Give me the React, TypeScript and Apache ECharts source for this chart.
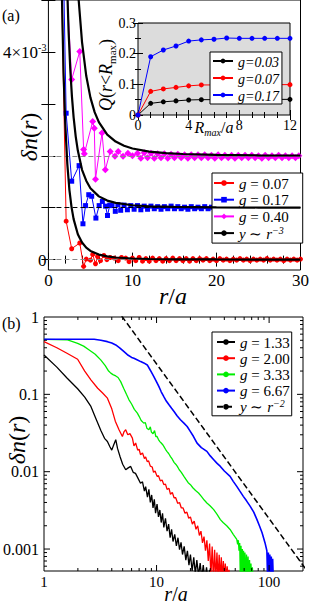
import React, { useEffect, useRef } from 'react';
import * as echarts from 'echarts';

const SERIF = 'Liberation Serif';

// ---------- Panel (a): δn(r) in units of 1e-3 (curves offset by 0, 1, 2) ----------
const g007: number[][] = [
  [1.41, 6.5], [2.11, 0.74], [2.77, 0.21], [3.73, 0.32], [4.19, -0.13], [4.5, 0.01], [5.0, -0.01],
  [5.27, 0.1], [5.6, -0.08], [5.85, 0.06], [6.2, -0.02], [6.6, 0.08], [6.96, 0.0], [7.35, 0.04],
  [7.85, 0.03], [8.3, -0.02], [8.7, 0.04], [9.2, 0.03], [9.6, -0.04], [10.0, 0.03], [10.4, -0.02],
  [10.8, 0.04], [11.2, -0.03], [11.6, 0.02], [12.0, -0.03], [12.4, 0.03], [12.8, -0.02], [13.2, 0.02],
  [13.6, -0.03], [14.0, 0.02], [14.4, -0.02], [14.8, 0.03], [15.2, -0.02], [15.6, 0.02], [16.0, -0.02],
  [16.4, 0.02], [16.8, -0.03], [17.2, 0.02], [17.6, -0.02], [18.0, 0.02], [18.4, -0.01], [18.8, 0.02],
  [19.2, -0.02], [19.6, 0.01], [20.0, -0.02], [20.4, 0.02], [20.8, -0.01], [21.2, 0.01], [21.6, -0.02],
  [22.0, 0.01], [22.4, -0.01], [22.8, 0.02], [23.2, -0.01], [23.6, 0.01], [24.0, -0.02], [24.4, 0.01],
  [24.8, -0.01], [25.2, 0.01], [25.6, -0.01], [26.0, 0.02], [26.4, -0.01], [26.8, 0.01], [27.2, -0.01],
  [27.6, 0.01], [28.0, -0.02], [28.4, 0.01], [28.8, -0.01], [29.2, 0.01], [29.6, -0.01], [30.0, 0.01],
];
const g017: number[][] = [
  [1.41, 9.0], [2.11, 2.82], [2.77, 1.51], [3.65, 1.81], [4.11, 0.69], [4.42, 1.04], [4.8, 1.25],
  [5.15, 1.22], [5.65, 0.8], [6.04, 1.04], [6.42, 1.12], [6.8, 1.03], [7.03, 0.85], [7.3, 1.05],
  [7.57, 1.04], [7.96, 0.93], [8.27, 1.06], [8.6, 0.95], [9.0, 1.05], [9.4, 0.96], [9.8, 1.04],
  [10.2, 0.97], [10.6, 1.04], [11.0, 0.96], [11.4, 1.03], [11.8, 0.97], [12.2, 1.03], [12.6, 0.98],
  [13.0, 1.02], [13.4, 0.97], [13.8, 1.02], [14.2, 0.98], [14.6, 1.03], [15.0, 0.98], [15.4, 1.02],
  [15.8, 0.98], [16.2, 1.01], [16.6, 0.97], [17.0, 1.02], [17.4, 0.98], [17.8, 1.01], [18.2, 0.98],
  [18.6, 1.02], [19.0, 0.98], [19.4, 1.01], [19.8, 0.98], [20.2, 1.01], [20.6, 0.98], [21.0, 1.01],
  [21.4, 0.97], [21.8, 1.01], [22.2, 0.98], [22.6, 1.01], [23.0, 0.98], [23.4, 1.01], [23.8, 0.98],
  [24.2, 1.0], [24.6, 0.98], [25.0, 1.01], [25.4, 0.98], [25.8, 1.0], [26.2, 0.98], [26.6, 1.01],
  [27.0, 0.98], [27.4, 1.0], [27.8, 0.98], [28.2, 1.01], [28.6, 0.98], [29.0, 1.0], [29.4, 0.98], [29.8, 1.0],
];
const g040: number[][] = [
  [2.11, 5.5], [2.77, 3.47], [3.73, 4.01], [4.19, 2.12], [4.27, 2.04], [5.27, 2.66], [5.46, 2.53],
  [5.6, 1.55], [6.38, 2.44], [6.77, 1.73], [7.35, 2.08], [7.92, 1.99], [8.3, 2.08], [8.88, 1.99],
  [9.46, 2.05], [10.0, 2.0], [10.6, 2.05], [11.0, 1.95], [11.4, 2.06], [11.8, 1.96], [12.2, 2.05],
  [12.6, 1.95], [13.0, 2.04], [13.4, 1.96], [13.8, 2.04], [14.2, 1.95], [14.6, 2.03], [15.0, 1.96],
  [15.4, 2.03], [15.8, 1.96], [16.2, 2.02], [16.6, 1.95], [17.0, 2.02], [17.4, 1.96], [17.8, 2.02],
  [18.2, 1.96], [18.6, 2.02], [19.0, 1.96], [19.4, 2.01], [19.8, 1.95], [20.2, 2.02], [20.6, 1.96],
  [21.0, 2.01], [21.4, 1.96], [21.8, 2.01], [22.2, 1.95], [22.6, 2.01], [23.0, 1.96], [23.4, 2.01],
  [23.8, 1.96], [24.2, 2.01], [24.6, 1.96], [25.0, 2.0], [25.4, 1.95], [25.8, 2.01], [26.2, 1.96],
  [26.6, 2.0], [27.0, 1.96], [27.4, 2.01], [27.8, 1.96], [28.2, 2.0], [28.6, 1.96], [29.0, 2.0],
  [29.4, 1.96], [29.8, 2.0],
];
// y ~ r^-3 guide curves (one per offset)
const fitA1: number[][] = [
  [1.6, 5.13], [1.8, 3.6], [2.0, 2.63], [2.25, 1.84], [2.5, 1.34], [2.75, 1.01], [3.0, 0.78],
  [3.5, 0.49], [4.0, 0.33], [4.5, 0.23], [5.0, 0.168], [6.0, 0.097], [7.0, 0.061], [8.0, 0.041],
  [10.0, 0.021], [12.0, 0.012], [15.0, 0.006], [20.0, 0.003], [25.0, 0.001], [30.0, 0.001],
];
const fitA2: number[][] = [
  [2.2, 5.41], [2.4, 4.4], [2.6, 3.67], [2.8, 3.14], [3.0, 2.74], [3.25, 2.37], [3.5, 2.1],
  [4.0, 1.73], [4.5, 1.52], [5.0, 1.376], [6.0, 1.218], [7.0, 1.137], [8.0, 1.092], [10.0, 1.047],
  [12.0, 1.027], [15.0, 1.014], [20.0, 1.006], [25.0, 1.003], [30.0, 1.002],
];
const fitA3: number[][] = [
  [3.4, 5.56], [3.6, 5.0], [4.0, 4.19], [4.5, 3.54], [5.0, 3.12], [5.5, 2.84], [6.0, 2.648],
  [7.0, 2.408], [8.0, 2.273], [9.0, 2.192], [10.0, 2.14], [12.0, 2.081], [14.0, 2.051],
  [16.0, 2.034], [20.0, 2.018], [25.0, 2.009], [30.0, 2.005],
];
const aBaselines = [0, 1, 2];
const aYTicks = [0, 1, 2, 3, 4, 5];
const aYLabels = [0, 4];

// ---------- Inset: Q(r < Rmax) ----------
const insetR = [0, 1, 2, 3, 4, 5, 6, 7, 8, 9, 10, 11, 12];
const q003 = [0, 0.038, 0.043, 0.046, 0.049, 0.05, 0.05, 0.051, 0.051, 0.051, 0.051, 0.051, 0.051];
const q007 = [0, 0.077, 0.085, 0.09, 0.095, 0.098, 0.098, 0.099, 0.099, 0.099, 0.099, 0.099, 0.099];
const q017 = [0, 0.19, 0.212, 0.225, 0.241, 0.245, 0.247, 0.251, 0.25, 0.25, 0.25, 0.25, 0.25];

// ---------- Panel (b): log-log ----------
const b133: number[][] = [
  [1, 0.323], [1.3, 0.225], [1.6, 0.163], [1.99, 0.118], [2.3, 0.092], [2.61, 0.0697], [2.9, 0.048],
  [3.2, 0.034], [3.45, 0.027], [3.66, 0.0246], [3.85, 0.021], [4.0, 0.019], [4.15, 0.022], [4.34, 0.0259],
  [4.5, 0.02], [4.75, 0.0155], [5.0, 0.0125], [5.32, 0.0106], [5.6, 0.0112], [5.89, 0.0117], [6.2, 0.0098],
  [6.5, 0.0095], [6.85, 0.0082], [7.2, 0.0071], [7.5, 0.0074], [7.8, 0.0056], [8.0, 0.0064], [8.3, 0.0047],
  [8.55, 0.0059], [8.8, 0.004], [9.05, 0.005], [9.3, 0.0034], [9.55, 0.0044], [9.8, 0.0029], [10.1, 0.0038],
  [10.4, 0.0026], [10.7, 0.0032], [11.0, 0.0022], [11.3, 0.0029], [11.6, 0.0019], [12.0, 0.0025],
  [12.4, 0.0017], [12.8, 0.0021], [13.2, 0.0014], [13.6, 0.0018], [14.0, 0.00125], [14.5, 0.00155],
  [15.0, 0.0011], [15.5, 0.0014], [16.0, 0.00098], [16.5, 0.00122], [17.0, 0.00085], [17.6, 0.00108],
  [18.2, 0.00072], [18.8, 0.00095], [19.4, 0.00062], [20.0, 0.00085], [20.7, 0.00052], [21.4, 0.00078],
  [22.1, 0.00048], [22.8, 0.00072], [23.6, 0.00045], [24.4, 0.00066], [25.2, 0.00042], [26.0, 0.00062],
  [26.9, 0.0004], [27.8, 0.00058], [28.7, 0.0004], [29.6, 0.00054], [30.5, 0.0004], [31.5, 0.0004],
];
const b200: number[][] = [
  [1, 0.48], [1.3, 0.4], [1.6, 0.34], [1.99, 0.284], [2.3, 0.2], [2.61, 0.154], [3.0, 0.12], [3.3, 0.105],
  [3.66, 0.0893], [4.0, 0.065], [4.3, 0.045], [4.64, 0.0348], [4.97, 0.0285], [5.15, 0.033], [5.32, 0.0348],
  [5.55, 0.03], [5.8, 0.031], [6.1, 0.0272], [6.3, 0.0215], [6.52, 0.0235], [6.8, 0.019], [7.0, 0.0195],
  [7.2, 0.0166], [7.5, 0.0175], [7.8, 0.0148], [8.0, 0.0155], [8.26, 0.0135], [8.5, 0.0138], [8.8, 0.0118],
  [9.15, 0.0115], [9.4, 0.0098], [9.7, 0.0102], [10.1, 0.0087], [10.4, 0.0089], [10.8, 0.0076],
  [11.2, 0.0078], [11.6, 0.0068], [12.0, 0.0069], [12.4, 0.0059], [12.9, 0.0061], [13.3, 0.0051],
  [13.8, 0.0054], [14.3, 0.0046], [14.8, 0.0046], [15.4, 0.0039], [16.0, 0.004], [16.6, 0.0034],
  [17.2, 0.0034], [17.9, 0.0029], [18.6, 0.003], [19.3, 0.0025], [20.0, 0.0026], [20.8, 0.0021],
  [21.6, 0.0023], [22.4, 0.0018], [23.2, 0.002], [24.0, 0.0015], [24.8, 0.0017], [25.6, 0.0012],
  [26.4, 0.00145], [27.2, 0.00095], [28.0, 0.0013], [28.8, 0.0007], [29.6, 0.00118], [30.4, 0.00045],
  [31.2, 0.00108], [32.0, 0.0004], [32.8, 0.00098], [33.6, 0.0004], [34.4, 0.0009], [35.2, 0.0004],
  [36.0, 0.00084], [36.8, 0.0004], [37.6, 0.00078], [38.4, 0.0004], [39.2, 0.0007], [40.0, 0.0004],
  [40.8, 0.00065], [41.6, 0.0004], [42.4, 0.0006], [43.2, 0.0004], [44.0, 0.00054], [44.8, 0.0004],
];
const b333: number[][] = [
  [1, 0.515], [1.3, 0.51], [1.62, 0.505], [1.99, 0.457], [2.25, 0.42], [2.52, 0.375], [2.85, 0.33],
  [3.19, 0.279], [3.5, 0.235], [3.75, 0.2], [3.92, 0.188], [4.1, 0.18], [4.34, 0.173], [4.55, 0.165],
  [4.8, 0.146], [5.1, 0.12], [5.4, 0.1], [5.69, 0.0849], [6.0, 0.075], [6.35, 0.064], [6.75, 0.0572],
  [7.0, 0.052], [7.3, 0.046], [7.7, 0.0425], [7.95, 0.043], [8.2, 0.0365], [8.55, 0.0348], [8.8, 0.038],
  [9.0, 0.0325], [9.3, 0.031], [9.6, 0.034], [9.85, 0.0285], [10.1, 0.0285], [10.4, 0.026], [10.7, 0.0245],
  [11.0, 0.0235], [11.3, 0.0225], [11.6, 0.0212], [12.0, 0.0195], [12.4, 0.0182], [12.8, 0.0172],
  [13.3, 0.0157], [13.8, 0.0145], [14.3, 0.0132], [14.8, 0.0125], [15.3, 0.0117], [15.9, 0.0106],
  [16.6, 0.0098], [17.5, 0.0087], [18.3, 0.0079], [19.1, 0.0072], [20.0, 0.0068], [21.0, 0.0062],
  [22.2, 0.0057], [23.6, 0.0053], [25.0, 0.0048], [26.5, 0.0043], [28.0, 0.00394], [30.0, 0.0036],
  [32.2, 0.00323], [34.5, 0.0028], [36.9, 0.0024], [39.0, 0.0022], [42.0, 0.002], [45.0, 0.00179],
  [48.0, 0.00155], [51.6, 0.00133], [52.5, 0.00115], [53.3, 0.0013], [54.0, 0.00095], [54.8, 0.0012],
  [55.5, 0.0004], [56.3, 0.0011], [57.0, 0.0004], [57.8, 0.001], [58.5, 0.0004], [59.3, 0.00095],
  [60.0, 0.0004], [61.0, 0.0009], [62.0, 0.0004], [63.0, 0.00085], [64.0, 0.0004], [65.0, 0.0008],
  [66.0, 0.0004], [67.0, 0.00072], [68.0, 0.0004], [69.0, 0.00065], [70.0, 0.0004], [71.0, 0.00058],
  [72.0, 0.0004],
];
const b667: number[][] = [
  [1, 0.515], [1.5, 0.515], [2.0, 0.515], [2.79, 0.515], [3.2, 0.5], [3.66, 0.48], [4.0, 0.46],
  [4.34, 0.435], [4.7, 0.4], [5.14, 0.357], [5.6, 0.32], [6.0, 0.3], [6.29, 0.293], [6.7, 0.28],
  [7.23, 0.265], [7.7, 0.255], [8.27, 0.24], [8.8, 0.205], [9.46, 0.17], [10.0, 0.145], [10.5, 0.126],
  [11.0, 0.108], [11.6, 0.0937], [12.2, 0.082], [12.9, 0.0732], [13.6, 0.066], [14.3, 0.06],
  [15.2, 0.053], [16.3, 0.0469], [17.5, 0.0425], [18.7, 0.0384], [20.0, 0.033], [21.3, 0.0285],
  [22.9, 0.0234], [25.0, 0.0205], [28.0, 0.0183], [30.0, 0.016], [32.2, 0.0143], [34.5, 0.0128],
  [36.9, 0.0117], [40.0, 0.0102], [45.0, 0.0087], [48.0, 0.0075], [51.6, 0.00646], [55.0, 0.0056],
  [59.0, 0.0048], [63.0, 0.0042], [68.0, 0.00356], [73.0, 0.003], [78.0, 0.0024], [82.0, 0.002],
  [86.6, 0.00162], [92.0, 0.0012], [95.5, 0.00095], [97.0, 0.0004], [98.5, 0.0009], [100.0, 0.0004],
  [101.5, 0.00085], [103.0, 0.0004], [104.5, 0.0008], [106.0, 0.0004], [107.5, 0.00075],
  [109.0, 0.0004], [110.0, 0.0004],
];
const bGuide: number[][] = [[4.9, 1.03], [210, 0.00056]];
const bXMinor = [2, 3, 4, 5, 6, 7, 8, 9, 20, 30, 40, 50, 60, 70, 80, 90];
const bXMajor = [10, 100];
const bYMinor = [
  0.0006, 0.0007, 0.0008, 0.0009, 0.002, 0.003, 0.004, 0.005, 0.006, 0.007, 0.008, 0.009,
  0.02, 0.03, 0.04, 0.05, 0.06, 0.07, 0.08, 0.09, 0.2, 0.3, 0.4, 0.5, 0.6, 0.7, 0.8, 0.9,
];
const bYMajor = [0.001, 0.01, 0.1];

const B_X: [number, number] = [1, 200];
const B_Y: [number, number] = [0.00052, 1];

const RED = '#ff0000';
const BLUE = '#0000ff';
const MAGENTA = '#ff00ff';
const GREEN = '#00ee00';

function legendRich(size: number) {
  return {
    i: { fontFamily: SERIF, fontStyle: 'italic', fontSize: size, lineHeight: 16, verticalAlign: 'bottom', color: '#000' },
    n: { fontFamily: SERIF, fontSize: size, lineHeight: 16, verticalAlign: 'bottom', color: '#000' },
    s: { fontFamily: SERIF, fontStyle: 'italic', fontSize: 10, lineHeight: 10, verticalAlign: 'top', color: '#000' },
  };
}

function legendFmt(name: string) {
  if (name.startsWith('y ~')) {
    const e = name.split('^')[1].replace('-', '−');
    return `{i|y}{n| ∼ }{i|r}{s|${e}}`;
  }
  if (name.indexOf(' = ') > 0) return `{i|g}{n| = ${name.split(' = ')[1]}}`;
  return `{i|${name}}`;
}

function isDecade(v: number) {
  const l = Math.log10(v);
  return Math.abs(l - Math.round(l)) < 1e-6;
}

function buildOption() {
  const tickStyle = { color: '#000', width: 1 };
  const lineSeries = (name: string, data: any, color: string, xi: number, yi: number, extra: any = {}) => ({
    type: 'line', name, data, xAxisIndex: xi, yAxisIndex: yi,
    itemStyle: { color }, lineStyle: { color, width: 1 },
    symbol: 'none', clip: true, z: 3, ...extra,
  });

  const xTickData = [...bXMinor.map((v) => [v, 0.01, 3]), ...bXMajor.map((v) => [v, 0.01, 6])];
  const yTickData = [...bYMinor.map((v) => [10, v, 3]), ...bYMajor.map((v) => [10, v, 6])];

  const titleRich = (size: number) => ({
    i: { fontFamily: SERIF, fontStyle: 'italic', fontSize: size, fill: '#000' },
    n: { fontFamily: SERIF, fontSize: size, fill: '#000' },
  });

  const legendBase = {
    orient: 'vertical', backgroundColor: '#fff', borderColor: '#000', borderWidth: 1,
    borderRadius: 0, selectedMode: false, formatter: legendFmt,
  };

  return {
    animation: false,
    backgroundColor: '#fff',
    textStyle: { fontFamily: SERIF },
    grid: [
      { left: 43, top: 0, width: 260, height: 270, show: true, borderColor: '#000', borderWidth: 1, backgroundColor: 'transparent' },
      { left: 138, top: 23, width: 152, height: 92, show: true, borderColor: '#000', borderWidth: 1, backgroundColor: '#dcdcdc' },
      { left: 43, top: 317, width: 260, height: 254, show: true, borderColor: '#000', borderWidth: 1, backgroundColor: 'transparent' },
    ],
    xAxis: [
      {
        gridIndex: 0, type: 'value', min: 0, max: 30, interval: 10, position: 'bottom',
        axisLine: { show: false }, splitLine: { show: false },
        axisTick: { inside: true, length: 7, lineStyle: tickStyle },
        minorTick: { show: true, splitNumber: 5, length: 4, lineStyle: tickStyle },
        axisLabel: { margin: 2, fontFamily: SERIF, fontSize: 17, color: '#000' },
      },
      {
        gridIndex: 0, type: 'value', min: 0, max: 30, interval: 10, position: 'top',
        axisLine: { show: false }, splitLine: { show: false }, axisLabel: { show: false },
        axisTick: { inside: true, length: 7, lineStyle: tickStyle },
        minorTick: { show: true, splitNumber: 5, length: 4, lineStyle: tickStyle },
      },
      {
        gridIndex: 1, type: 'value', min: 0, max: 12, interval: 4, position: 'bottom',
        axisLine: { show: false }, splitLine: { show: false },
        axisTick: { inside: true, length: 5, lineStyle: tickStyle },
        minorTick: { show: true, splitNumber: 4, length: 3, lineStyle: tickStyle },
        axisLabel: { margin: 3, fontFamily: SERIF, fontSize: 14, color: '#000' },
      },
      {
        gridIndex: 1, type: 'value', min: 0, max: 12, interval: 4, position: 'top',
        axisLine: { show: false }, splitLine: { show: false }, axisLabel: { show: false },
        axisTick: { inside: true, length: 5, lineStyle: tickStyle },
        minorTick: { show: true, splitNumber: 4, length: 3, lineStyle: tickStyle },
      },
      {
        gridIndex: 2, type: 'log', logBase: 10, min: B_X[0], max: B_X[1], position: 'bottom',
        axisLine: { show: false }, splitLine: { show: false }, axisTick: { show: false },
        axisLabel: {
          margin: 3, fontFamily: SERIF, fontSize: 15, color: '#000',
          formatter: (v: number) => (isDecade(v) && v < 150 ? String(Math.round(v)) : ''),
        },
      },
    ],
    yAxis: [
      {
        gridIndex: 0, type: 'value', min: -0.2, max: 5, position: 'left',
        axisLine: { show: false }, splitLine: { show: false },
        axisTick: { inside: true, length: 7, lineStyle: tickStyle, customValues: aYTicks },
        axisLabel: {
          customValues: aYLabels, margin: 2, color: '#000',
          formatter: (v: number) => (v === 0 ? '{b|0}' : `{b|${v}×10}{s|-3}`),
          rich: {
            b: { fontFamily: SERIF, fontSize: 17, lineHeight: 19, verticalAlign: 'bottom', color: '#000' },
            s: { fontFamily: SERIF, fontSize: 10, lineHeight: 10, verticalAlign: 'top', color: '#000' },
          },
        },
      },
      {
        gridIndex: 0, type: 'value', min: -0.2, max: 5, position: 'right',
        axisLine: { show: false }, splitLine: { show: false }, axisLabel: { show: false },
        axisTick: { inside: true, length: 7, lineStyle: tickStyle, customValues: aYTicks },
      },
      {
        gridIndex: 1, type: 'value', min: 0, max: 0.3, interval: 0.1, position: 'left',
        axisLine: { show: false }, splitLine: { show: false },
        axisTick: { inside: true, length: 5, lineStyle: tickStyle },
        minorTick: { show: true, splitNumber: 2, length: 3, lineStyle: tickStyle },
        axisLabel: { margin: 2, fontFamily: SERIF, fontSize: 14, color: '#000' },
      },
      {
        gridIndex: 1, type: 'value', min: 0, max: 0.3, interval: 0.1, position: 'right',
        axisLine: { show: false }, splitLine: { show: false }, axisLabel: { show: false },
        axisTick: { inside: true, length: 5, lineStyle: tickStyle },
        minorTick: { show: true, splitNumber: 2, length: 3, lineStyle: tickStyle },
      },
      {
        gridIndex: 2, type: 'log', logBase: 10, min: B_Y[0], max: B_Y[1], position: 'left',
        axisLine: { show: false }, splitLine: { show: false }, axisTick: { show: false },
        axisLabel: {
          margin: 5, fontFamily: SERIF, fontSize: 16, color: '#000',
          formatter: (v: number) => (isDecade(v) && v > 0.0009 ? String(Number(v.toPrecision(1))) : ''),
        },
      },
    ],
    legend: [
      {
        ...legendBase,
        data: ['g = 0.07', 'g = 0.17', 'g = 0.40', 'y ~ r^-3'],
        left: 212, top: 173, padding: [2, 14, 2, 1], itemGap: 0.7, itemWidth: 20, itemHeight: 7,
        textStyle: { fontFamily: SERIF, fontSize: 15, lineHeight: 16, color: '#000', rich: legendRich(15) },
      },
      {
        ...legendBase,
        data: ['g=0.03', 'g=0.07', 'g=0.17'],
        left: 210, top: 52, padding: [1, 3, 1, 2], itemGap: 1, itemWidth: 20, itemHeight: 6,
        textStyle: { fontFamily: SERIF, fontSize: 14, lineHeight: 16, color: '#000', rich: legendRich(14) },
      },
      {
        ...legendBase,
        data: ['g = 1.33', 'g = 2.00', 'g = 3.33', 'g = 6.67', 'y ~ r^-2'],
        left: 212, top: 332, padding: [2, 2, 1, 4], itemGap: 0.2, itemWidth: 18, itemHeight: 7,
        textStyle: { fontFamily: SERIF, fontSize: 15, lineHeight: 16, color: '#000', rich: legendRich(15) },
      },
    ],
    series: [
      {
        type: 'line', name: 'baselines', data: [], xAxisIndex: 0, yAxisIndex: 0, z: 1, silent: true,
        markLine: {
          silent: true, symbol: ['none', 'none'], label: { show: false }, animation: false,
          data: aBaselines.map((b) => ({
            yAxis: b,
            lineStyle: { color: b === 1 ? '#000' : '#888', type: [5, 3], width: 1 },
          })),
        },
      },
      lineSeries('g = 0.07', g007, RED, 0, 0, { symbol: 'circle', symbolSize: 5, showSymbol: true }),
      lineSeries('g = 0.17', g017, BLUE, 0, 0, { symbol: 'rect', symbolSize: 5, showSymbol: true }),
      lineSeries('g = 0.40', g040, MAGENTA, 0, 0, { symbol: 'diamond', symbolSize: 7, showSymbol: true }),
      lineSeries('y ~ r^-3', fitA1, '#000', 0, 0, { lineStyle: { color: '#000', width: 2.2 }, z: 5 }),
      lineSeries('y ~ r^-3', fitA2, '#000', 0, 0, { lineStyle: { color: '#000', width: 2.2 }, z: 5 }),
      lineSeries('y ~ r^-3', fitA3, '#000', 0, 0, { lineStyle: { color: '#000', width: 2.2 }, z: 5 }),

      lineSeries('g=0.03', insetR.map((r, i) => [r, q003[i]]), '#000', 2, 2, { symbol: 'circle', symbolSize: 5, showSymbol: true }),
      lineSeries('g=0.07', insetR.map((r, i) => [r, q007[i]]), RED, 2, 2, { symbol: 'circle', symbolSize: 5, showSymbol: true }),
      lineSeries('g=0.17', insetR.map((r, i) => [r, q017[i]]), BLUE, 2, 2, { symbol: 'circle', symbolSize: 5, showSymbol: true }),

      lineSeries('g = 1.33', b133, '#000', 4, 4, { lineStyle: { color: '#000', width: 1.3 } }),
      lineSeries('g = 2.00', b200, RED, 4, 4, { lineStyle: { color: RED, width: 1.3 } }),
      lineSeries('g = 3.33', b333, GREEN, 4, 4, { lineStyle: { color: GREEN, width: 1.3 } }),
      lineSeries('g = 6.67', b667, BLUE, 4, 4, { lineStyle: { color: BLUE, width: 1.6 } }),
      lineSeries('y ~ r^-2', bGuide, '#000', 4, 4, { lineStyle: { color: '#000', width: 1.5, type: [6, 3] } }),
      {
        type: 'custom', name: 'xticks', xAxisIndex: 4, yAxisIndex: 4, data: xTickData, silent: true, clip: false, z: 6,
        renderItem: (_p: any, api: any) => {
          const v = api.value(0);
          const len = api.value(2);
          const pb = api.coord([v, B_Y[0]]);
          const pt = api.coord([v, B_Y[1]]);
          const st = { stroke: '#000', lineWidth: 1 };
          return {
            type: 'group',
            children: [
              { type: 'line', shape: { x1: pb[0], y1: pb[1], x2: pb[0], y2: pb[1] - len }, style: st },
              { type: 'line', shape: { x1: pt[0], y1: pt[1], x2: pt[0], y2: pt[1] + len }, style: st },
            ],
          };
        },
      },
      {
        type: 'custom', name: 'yticks', xAxisIndex: 4, yAxisIndex: 4, data: yTickData, silent: true, clip: false, z: 6,
        renderItem: (_p: any, api: any) => {
          const v = api.value(1);
          const len = api.value(2);
          const pl = api.coord([B_X[0], v]);
          const pr = api.coord([B_X[1], v]);
          const st = { stroke: '#000', lineWidth: 1 };
          return {
            type: 'group',
            children: [
              { type: 'line', shape: { x1: pl[0], y1: pl[1], x2: pl[0] + len, y2: pl[1] }, style: st },
              { type: 'line', shape: { x1: pr[0], y1: pr[1], x2: pr[0] - len, y2: pr[1] }, style: st },
            ],
          };
        },
      },
    ],
    graphic: [
      { type: 'text', x: 2, y: 15, style: { text: '(a)', fontFamily: SERIF, fontSize: 16, fill: '#000', verticalAlign: 'middle' } },
      { type: 'text', x: 2, y: 323, style: { text: '(b)', fontFamily: SERIF, fontSize: 16, fill: '#000', verticalAlign: 'middle' } },
      {
        type: 'text', x: 29, y: 137, rotation: Math.PI / 2,
        style: { text: '{i|δn}{n|(}{i|r}{n|)}', align: 'center', verticalAlign: 'middle', rich: titleRich(24) },
      },
      {
        type: 'text', x: 17, y: 440, rotation: Math.PI / 2,
        style: { text: '{i|δn}{n|(}{i|r}{n|)}', align: 'center', verticalAlign: 'middle', rich: titleRich(24) },
      },
      {
        type: 'text', x: 173, y: 296,
        style: { text: '{i|r}{n|/}{i|a}', align: 'center', verticalAlign: 'middle', rich: titleRich(24) },
      },
      {
        type: 'text', x: 176, y: 594,
        style: { text: '{i|r}{n|/}{i|a}', align: 'center', verticalAlign: 'middle', rich: titleRich(20) },
      },
      {
        type: 'text', x: 107, y: 75, rotation: Math.PI / 2,
        style: {
          text: '{i|Q}{n|(}{i|r}{n|<}{i|R}{s|max}{n|)}', align: 'center', verticalAlign: 'middle',
          rich: {
            i: { fontFamily: SERIF, fontStyle: 'italic', fontSize: 18, lineHeight: 20, verticalAlign: 'top', fill: '#000' },
            n: { fontFamily: SERIF, fontSize: 18, lineHeight: 20, verticalAlign: 'top', fill: '#000' },
            s: { fontFamily: SERIF, fontSize: 11, lineHeight: 11, verticalAlign: 'bottom', fill: '#000' },
          },
        },
      },
      {
        type: 'text', x: 214, y: 128,
        style: {
          text: '{i|R}{s|max}{n|/}{i|a}', align: 'center', verticalAlign: 'middle',
          rich: {
            i: { fontFamily: SERIF, fontStyle: 'italic', fontSize: 16, lineHeight: 18, verticalAlign: 'top', fill: '#000' },
            n: { fontFamily: SERIF, fontSize: 16, lineHeight: 18, verticalAlign: 'top', fill: '#000' },
            s: { fontFamily: SERIF, fontStyle: 'italic', fontSize: 10, lineHeight: 10, verticalAlign: 'bottom', fill: '#000' },
          },
        },
      },
    ],
  };
}

export default function App() {
  const ref = useRef<HTMLDivElement>(null);
  useEffect(() => {
    document.body.style.margin = '0';
    if (!ref.current) return;
    const chart = echarts.init(ref.current, null, { renderer: 'svg', width: 312, height: 604 });
    chart.setOption(buildOption() as any);
    return () => chart.dispose();
  }, []);
  return <div ref={ref} style={{ position: 'fixed', left: 0, top: 0, width: 312, height: 604 }} />;
}
